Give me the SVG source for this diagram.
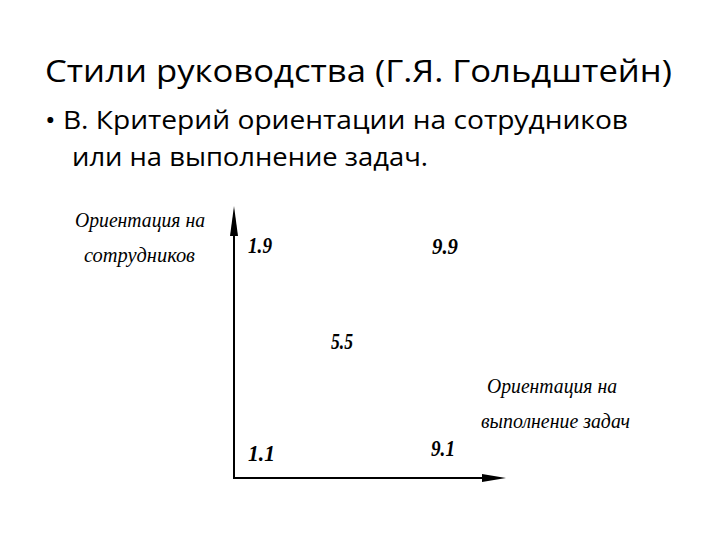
<svg xmlns="http://www.w3.org/2000/svg" width="720" height="540" viewBox="0 0 720 540">
<style>
.t{font-family:"Open Sans","Liberation Sans",sans-serif;fill:#000}
.lab{font-family:"Liberation Serif",serif;font-style:italic;font-size:20px;fill:#000}
.num{font-family:"Liberation Serif",serif;font-style:italic;font-weight:bold;font-size:24px;fill:#000}
.ax{stroke:#000;stroke-width:2;fill:none}
</style>
<rect width="720" height="540" fill="#fff"/>
<text class="t" x="45" y="82" font-size="31" textLength="627" lengthAdjust="spacingAndGlyphs">Стили руководства (Г.Я. Гольдштейн)</text>
<text class="t" x="45" y="129" font-size="26" textLength="583" lengthAdjust="spacingAndGlyphs">• В. Критерий ориентации на сотрудников</text>
<text class="t" x="72" y="166" font-size="26" textLength="356" lengthAdjust="spacingAndGlyphs">или на выполнение задач.</text>
<g id="axes">
<line class="ax" x1="234" y1="478" x2="234" y2="225"/>
<line class="ax" x1="233" y1="478" x2="490" y2="478"/>
<polygon points="234,206 230,236 238,236" fill="#000"/>
<polygon points="506,478 482,474 482,482" fill="#000"/>
</g>
<g id="label-y"><text class="lab" x="75" y="227" textLength="130" lengthAdjust="spacingAndGlyphs">Ориентация на</text>
<text class="lab" x="84" y="262" textLength="111" lengthAdjust="spacingAndGlyphs">сотрудников</text></g>
<g id="label-x"><text class="lab" x="487" y="393" textLength="130" lengthAdjust="spacingAndGlyphs">Ориентация на</text>
<text class="lab" x="481" y="428" textLength="149" lengthAdjust="spacingAndGlyphs">выполнение задач</text></g>
<g id="n19"><text class="num" x="248" y="253" textLength="24" lengthAdjust="spacingAndGlyphs">1.9</text></g>
<g id="n99"><text class="num" x="432" y="254" textLength="26" lengthAdjust="spacingAndGlyphs">9.9</text></g>
<g id="n55"><text class="num" x="331" y="349" textLength="22" lengthAdjust="spacingAndGlyphs">5.5</text></g>
<g id="n11"><text class="num" x="248" y="461" textLength="27" lengthAdjust="spacingAndGlyphs">1.1</text></g>
<g id="n91"><text class="num" x="431" y="456" textLength="24" lengthAdjust="spacingAndGlyphs">9.1</text></g>
</svg>
